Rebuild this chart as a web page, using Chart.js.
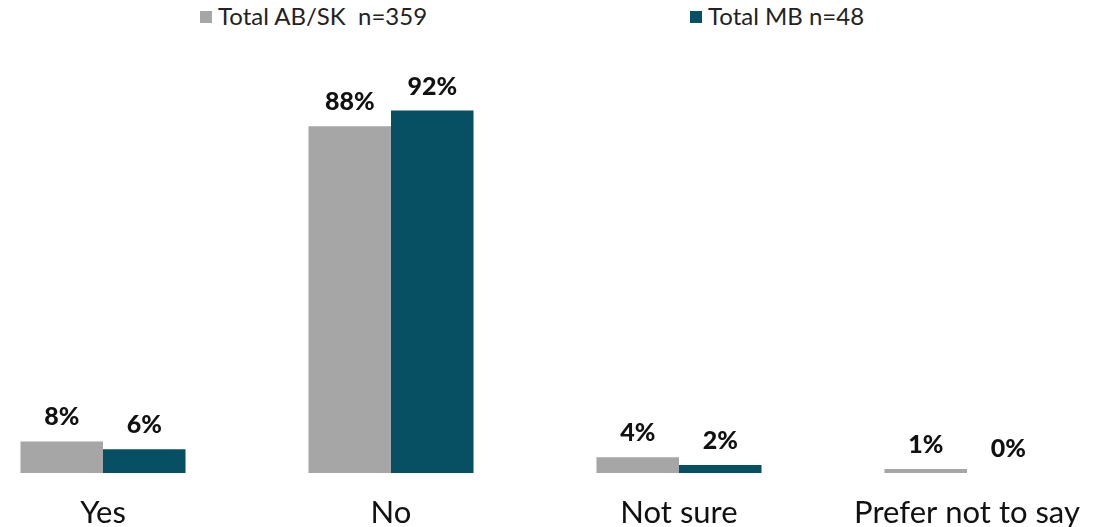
<!DOCTYPE html>
<html>
<head>
<meta charset="utf-8">
<script src="https://cdn.jsdelivr.net/npm/chart.js@4/dist/chart.umd.min.js"></script>
<style>
  html, body { margin: 0; padding: 0; background: #fff; overflow: hidden; }
  body { width: 1109px; height: 527px; position: relative; font-family: "Lato", "Open Sans", sans-serif; }
  #wrap { position: absolute; left: -41px; top: 0; width: 1152px; height: 527px; }
  .leg { position: absolute; top: 2px; font-size: 24px; color: #222; white-space: pre; line-height: 28px; }
  .leg i { display: inline-block; width: 12px; height: 12px; margin-right: 6px; vertical-align: 2px; }
</style>
</head>
<body>
<div class="leg" style="left:200px"><i style="background:#a6a6a6"></i>Total AB/SK  n=359</div>
<div class="leg" style="left:690px"><i style="background:#074f63"></i>Total MB n=48</div>
<div id="wrap"><canvas id="c"></canvas></div>
<script>
const categories = ["Yes", "No", "Not sure", "Prefer not to say"];
const seriesNames = ["Total AB/SK  n=359", "Total MB n=48"];
const abskValues = [8, 88, 4, 1];
const mbValues = [6, 92, 2, 0];
const seriesColors = ["#a6a6a6", "#074f63"];

// Writes the percentage above every bar
const valueLabels = {
  id: "valueLabels",
  afterDatasetsDraw(chart) {
    const ctx = chart.ctx;
    ctx.save();
    ctx.font = "900 25px Lato, 'Open Sans', sans-serif";
    ctx.fillStyle = "#111";
    ctx.textAlign = "center";
    ctx.textBaseline = "alphabetic";
    chart.data.datasets.forEach((ds, i) => {
      chart.getDatasetMeta(i).data.forEach((bar, j) => {
        ctx.fillText(ds.data[j] + "%", bar.x, bar.y - 16);
      });
    });
    ctx.restore();
  }
};

new Chart(document.getElementById("c"), {
  type: "bar",
  data: {
    labels: categories,
    datasets: [
      { label: seriesNames[0], data: abskValues, backgroundColor: seriesColors[0] },
      { label: seriesNames[1], data: mbValues, backgroundColor: seriesColors[1] }
    ]
  },
  options: {
    responsive: true,
    maintainAspectRatio: false,
    animation: false,
    layout: { padding: { top: 79, bottom: 0, left: 0, right: 0 } },
    categoryPercentage: 0.573,
    barPercentage: 1,
    plugins: { legend: { display: false }, tooltip: { enabled: false } },
    scales: {
      y: { display: false, min: 0, max: 100 },
      x: {
        grid: { display: false },
        border: { display: false },
        ticks: { color: "#111", font: { size: 31, family: "Lato, 'Open Sans', sans-serif" }, padding: 13, maxRotation: 0, autoSkip: false },
        afterFit(scale) { scale.height = 54; }
      }
    }
  },
  plugins: [valueLabels]
});
</script>
</body>
</html>
